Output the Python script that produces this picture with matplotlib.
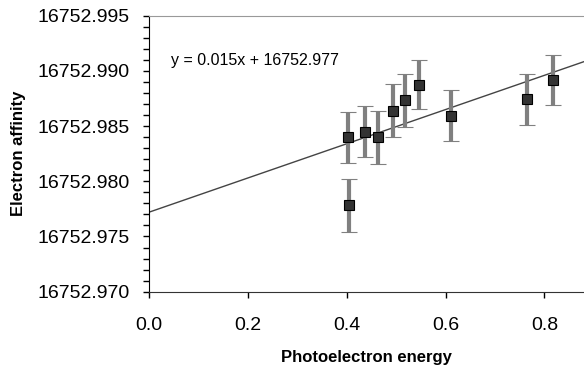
import numpy as np
import matplotlib.pyplot as plt
from matplotlib.ticker import MultipleLocator, FormatStrFormatter

plt.rcParams['font.family'] = ['Liberation Sans', 'DejaVu Sans']

# measured points (photoelectron energy, electron affinity, error)
energy = [0.402, 0.404, 0.437, 0.464, 0.493, 0.518, 0.547, 0.611, 0.765, 0.817]
affinity = [16752.98399, 16752.97782, 16752.98449, 16752.98399, 16752.98637,
            16752.98736, 16752.98875, 16752.98594, 16752.98742, 16752.98918]
err = [0.0023, 0.0024, 0.0023, 0.0024, 0.0024,
       0.0024, 0.0022, 0.0023, 0.0023, 0.0023]

# linear trend as drawn
slope = 0.0155
intercept = 16752.9772

fig = plt.figure(figsize=(5.84, 3.67), dpi=100)
ax = fig.add_axes([0.2551, 0.2052, 0.7449, 0.752])

xl = np.array([0.0, 0.88])
ax.plot(xl, slope * xl + intercept, color='#444444', lw=1.0, zorder=2)

ax.errorbar(energy, affinity, yerr=err, fmt='s', ms=7, mfc='#333333',
            mec='black', mew=0.8, ecolor='#808080', elinewidth=3,
            capsize=5.5, capthick=3, zorder=3)

ax.set_xlim(0, 0.88)
ax.set_ylim(16752.970, 16752.995)
ax.xaxis.set_major_locator(MultipleLocator(0.2))
ax.xaxis.set_major_formatter(FormatStrFormatter('%.1f'))
ax.yaxis.set_major_locator(MultipleLocator(0.005))
ax.yaxis.set_minor_locator(MultipleLocator(0.001))
ax.yaxis.set_major_formatter(FormatStrFormatter('%.3f'))

ax.tick_params(axis='both', which='both', direction='out', labelsize=14,
               length=4, width=1, color='black')
ax.tick_params(axis='y', pad=10)
ax.tick_params(axis='x', pad=14)

ax.spines['right'].set_visible(False)
ax.spines['top'].set_color('#999999')
ax.spines['left'].set_color('black')
ax.spines['bottom'].set_color('#333333')

ax.text(0.045, 16752.9909, 'y = 0.015x + 16752.977', fontsize=11.5,
        va='center', ha='left')

ax.set_xlabel('Photoelectron energy', fontsize=12, fontweight='bold', labelpad=12)
ax.set_ylabel('Electron affinity', fontsize=12, fontweight='bold', labelpad=8)

fig.savefig('out.png', dpi=100)
